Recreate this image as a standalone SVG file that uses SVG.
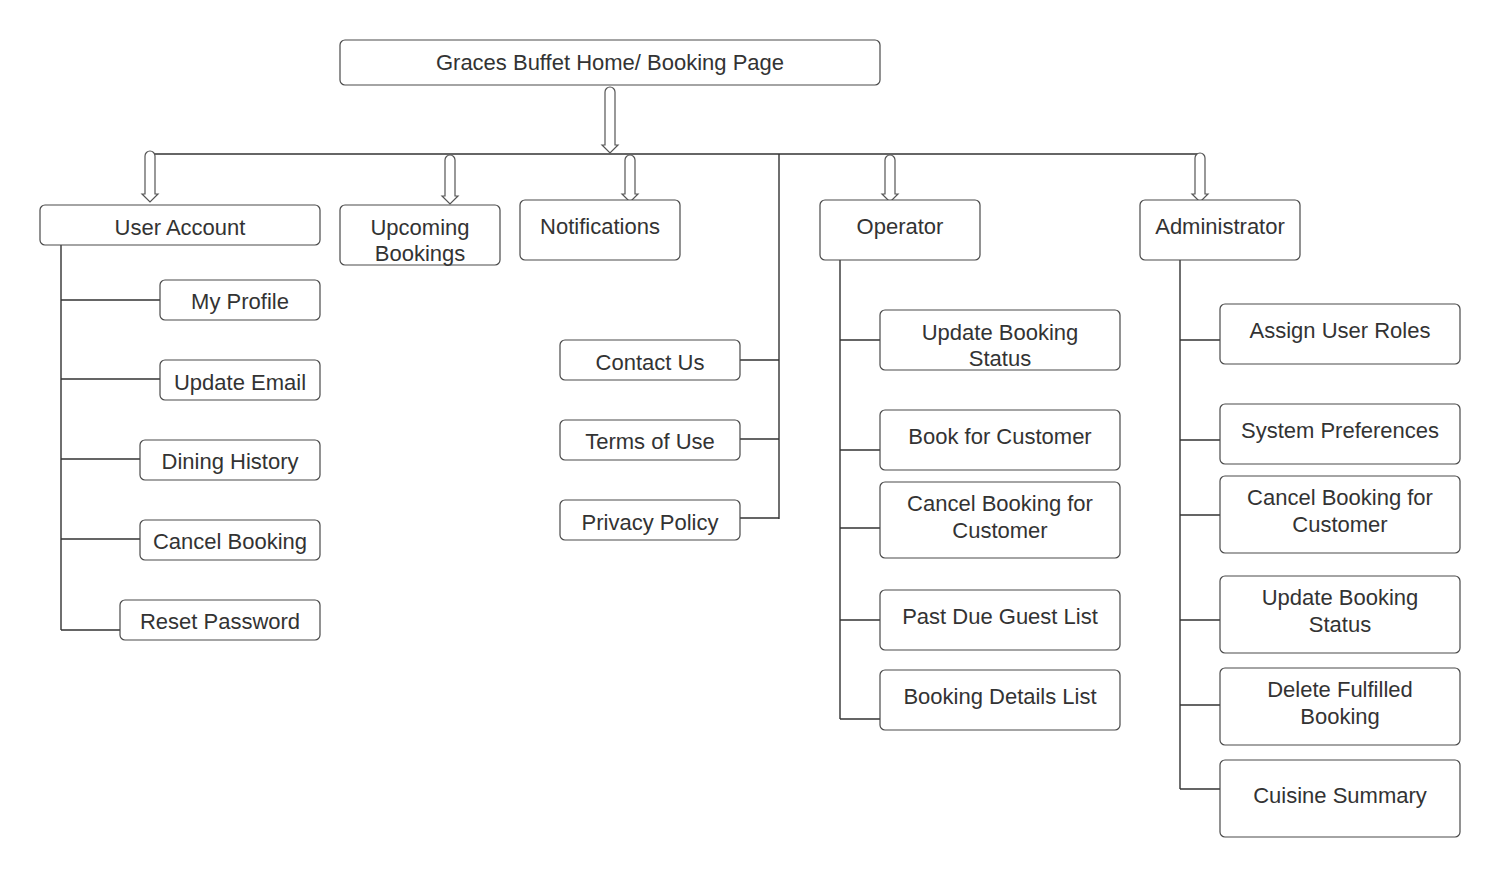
<svg xmlns="http://www.w3.org/2000/svg" width="1500" height="877" viewBox="0 0 1500 877">
<style>
.box{fill:#fff;stroke:#4a4a4a;stroke-width:1.2}
.t{font-family:"Liberation Sans",Arial,sans-serif;font-size:22px;fill:#333;text-anchor:middle}
.ln{fill:none;stroke:#333;stroke-width:1.4}
.ar{fill:#fff;stroke:#555;stroke-width:1.2}
</style>
<rect width="1500" height="877" fill="#fff"/>
<g id="connectors">
<path class="ln" d="M150 154H1200"/>
<path class="ln" d="M779 154V519M740 360H779M740 439H779M740 518H779"/>
<path class="ln" d="M61 240V630M61 300H160M61 379H160M61 459H140M61 539H140M61 630H120"/>
<path class="ln" d="M840 260V719M840 340H880M840 450H880M840 528H880M840 620H880M840 719H880"/>
<path class="ln" d="M1180 260V789M1180 340H1220M1180 440H1220M1180 515H1220M1180 620H1220M1180 705H1220M1180 789H1220"/>
<path class="ar" d="M605 92A5 5 0 0 1 615 92V145H618L610 153L602 145H605Z"/>
<path class="ar" d="M145 156A5 5 0 0 1 155 156V194H158L150 202L142 194H145Z"/>
<path class="ar" d="M445 160A5 5 0 0 1 455 160V196H458L450 204L442 196H445Z"/>
<path class="ar" d="M625 160A5 5 0 0 1 635 160V194H638L630 202L622 194H625Z"/>
<path class="ar" d="M885 160A5 5 0 0 1 895 160V194H898L890 202L882 194H885Z"/>
<path class="ar" d="M1195 158A5 5 0 0 1 1205 158V194H1208L1200 202L1192 194H1195Z"/>
</g>
<g id="home"><rect class="box" x="340" y="40" width="540" height="45" rx="5"/><text class="t" x="610" y="70">Graces Buffet Home/ Booking Page</text></g>
<g id="user-account"><rect class="box" x="40" y="205" width="280" height="40" rx="5"/><text class="t" x="180" y="235">User Account</text></g>
<g id="upcoming"><rect class="box" x="340" y="205" width="160" height="60" rx="5"/><text class="t" x="420" y="235">Upcoming</text><text class="t" x="420" y="261">Bookings</text></g>
<g id="notifications"><rect class="box" x="520" y="200" width="160" height="60" rx="5"/><text class="t" x="600" y="234">Notifications</text></g>
<g id="operator"><rect class="box" x="820" y="200" width="160" height="60" rx="5"/><text class="t" x="900" y="234">Operator</text></g>
<g id="administrator"><rect class="box" x="1140" y="200" width="160" height="60" rx="5"/><text class="t" x="1220" y="234">Administrator</text></g>
<g id="my-profile"><rect class="box" x="160" y="280" width="160" height="40" rx="5"/><text class="t" x="240" y="309">My Profile</text></g>
<g id="update-email"><rect class="box" x="160" y="360" width="160" height="40" rx="5"/><text class="t" x="240" y="390">Update Email</text></g>
<g id="dining-history"><rect class="box" x="140" y="440" width="180" height="40" rx="5"/><text class="t" x="230" y="469">Dining History</text></g>
<g id="cancel-booking"><rect class="box" x="140" y="520" width="180" height="40" rx="5"/><text class="t" x="230" y="549">Cancel Booking</text></g>
<g id="reset-password"><rect class="box" x="120" y="600" width="200" height="40" rx="5"/><text class="t" x="220" y="629">Reset Password</text></g>
<g id="contact-us"><rect class="box" x="560" y="340" width="180" height="40" rx="5"/><text class="t" x="650" y="370">Contact Us</text></g>
<g id="terms"><rect class="box" x="560" y="420" width="180" height="40" rx="5"/><text class="t" x="650" y="449">Terms of Use</text></g>
<g id="privacy"><rect class="box" x="560" y="500" width="180" height="40" rx="5"/><text class="t" x="650" y="530">Privacy Policy</text></g>
<g id="op-update-status"><rect class="box" x="880" y="310" width="240" height="60" rx="5"/><text class="t" x="1000" y="340">Update Booking</text><text class="t" x="1000" y="366">Status</text></g>
<g id="op-book"><rect class="box" x="880" y="410" width="240" height="60" rx="5"/><text class="t" x="1000" y="444">Book for Customer</text></g>
<g id="op-cancel"><rect class="box" x="880" y="482" width="240" height="76" rx="5"/><text class="t" x="1000" y="511">Cancel Booking for</text><text class="t" x="1000" y="538">Customer</text></g>
<g id="op-pastdue"><rect class="box" x="880" y="590" width="240" height="60" rx="5"/><text class="t" x="1000" y="624">Past Due Guest List</text></g>
<g id="op-details"><rect class="box" x="880" y="670" width="240" height="60" rx="5"/><text class="t" x="1000" y="704">Booking Details List</text></g>
<g id="ad-roles"><rect class="box" x="1220" y="304" width="240" height="60" rx="5"/><text class="t" x="1340" y="338">Assign User Roles</text></g>
<g id="ad-prefs"><rect class="box" x="1220" y="404" width="240" height="60" rx="5"/><text class="t" x="1340" y="438">System Preferences</text></g>
<g id="ad-cancel"><rect class="box" x="1220" y="476" width="240" height="77" rx="5"/><text class="t" x="1340" y="505">Cancel Booking for</text><text class="t" x="1340" y="532">Customer</text></g>
<g id="ad-update-status"><rect class="box" x="1220" y="576" width="240" height="77" rx="5"/><text class="t" x="1340" y="605">Update Booking</text><text class="t" x="1340" y="632">Status</text></g>
<g id="ad-delete"><rect class="box" x="1220" y="668" width="240" height="77" rx="5"/><text class="t" x="1340" y="697">Delete Fulfilled</text><text class="t" x="1340" y="724">Booking</text></g>
<g id="ad-cuisine"><rect class="box" x="1220" y="760" width="240" height="77" rx="5"/><text class="t" x="1340" y="803">Cuisine Summary</text></g>
</svg>
